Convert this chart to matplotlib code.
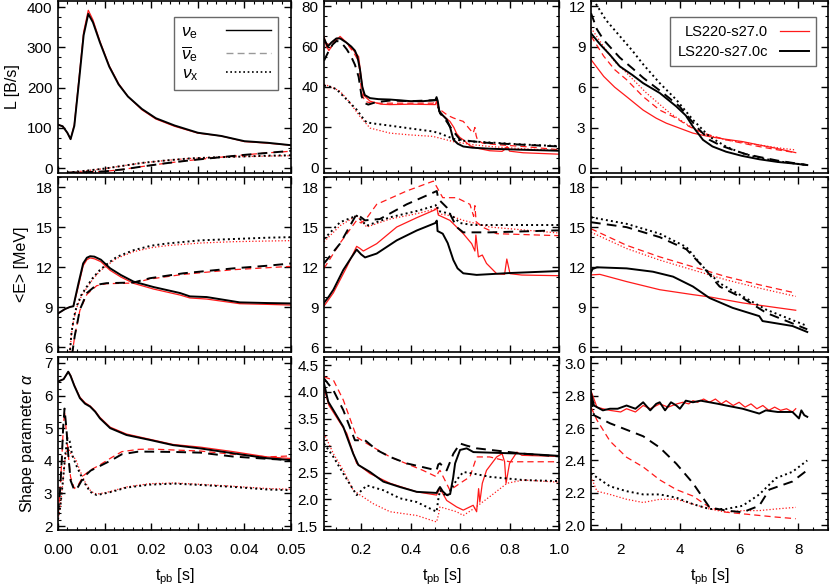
import matplotlib
matplotlib.use("Agg")
import matplotlib.pyplot as plt
from matplotlib.ticker import MultipleLocator, AutoMinorLocator, FormatStrFormatter
from matplotlib.lines import Line2D

plt.rcParams['font.family'] = ['Liberation Sans', 'DejaVu Sans']
plt.rcParams['mathtext.fontset'] = 'custom'
plt.rcParams['mathtext.rm'] = 'Liberation Sans'
plt.rcParams['mathtext.it'] = 'Liberation Sans:italic'
plt.rcParams['mathtext.sf'] = 'Liberation Sans'
plt.rcParams['font.size'] = 11

# ---------------- data: luminosity L [B/s] ----------------
# column 0: 0-0.05 s
tL0_e = [0, 0.001, 0.002, 0.0027, 0.0035, 0.0045, 0.0055, 0.0065, 0.0075, 0.009, 0.011, 0.013, 0.015, 0.018, 0.021, 0.025, 0.03, 0.035, 0.04, 0.045, 0.05]
yL0_e_k = [108, 104, 88, 72, 105, 215, 330, 383, 362, 312, 252, 208, 178, 147, 124, 106, 88, 80, 67, 63, 57]
yL0_e_r = [108, 104, 88, 72, 108, 222, 338, 392, 368, 315, 254, 210, 178, 145, 122, 104, 87, 80, 66, 62, 57]
tL0_a = [0.002, 0.006, 0.01, 0.014, 0.018, 0.023, 0.028, 0.033, 0.04, 0.045, 0.05]
yL0_a_k = [-11, -10, -8, -3, 4, 12, 19, 25, 33, 38, 43]
yL0_a_r = [-11, -10, -8, -3, 4, 12, 19, 25, 33, 38, 42]
tL0_x = [0.002, 0.004, 0.007, 0.01, 0.014, 0.018, 0.023, 0.028, 0.034, 0.04, 0.045, 0.05]
yL0_x_k = [-11, -9, -5, -1, 6, 13, 19, 24, 27, 29, 31, 32]
yL0_x_r = [-11, -9, -5, -1, 6, 13, 19, 24, 27, 29, 30, 31]
# column 1: 0.05-1 s
tL1_e_k = [0.05, 0.065, 0.08, 0.1, 0.115, 0.14, 0.16, 0.175, 0.185, 0.195, 0.205, 0.215, 0.236, 0.27, 0.317, 0.4, 0.45, 0.5, 0.505, 0.51, 0.516, 0.53, 0.546, 0.56, 0.573, 0.59, 0.613, 0.65, 0.72, 0.85, 1.0]
yL1_e_k = [64, 60, 62, 64, 64, 62, 60, 58, 55, 49, 40, 36, 34.5, 34, 33.8, 33, 33, 33.5, 35, 33, 28, 26, 24, 20, 14, 12, 10.6, 10, 9.5, 9, 8.5]
tL1_e_r = [0.05, 0.06, 0.07, 0.09, 0.115, 0.14, 0.17, 0.19, 0.2, 0.21, 0.236, 0.28, 0.317, 0.4, 0.5, 0.505, 0.51, 0.519, 0.54, 0.559, 0.575, 0.586, 0.6, 0.613, 0.64, 0.667, 0.72, 0.77, 0.785, 0.79, 0.8, 0.855, 1.0]
yL1_e_r = [65, 60, 58, 62, 65, 62, 58, 55, 45, 36, 33, 31.5, 31.3, 31.5, 31.3, 33, 31, 27, 25, 23, 20, 17, 15, 13.9, 11, 9.8, 8.5, 8.2, 9.5, 10.6, 8.3, 7.5, 6.8]
tL1_a_k = [0.05, 0.07, 0.085, 0.101, 0.12, 0.142, 0.16, 0.175, 0.19, 0.202, 0.215, 0.229, 0.26, 0.317, 0.4, 0.5, 0.505, 0.51, 0.519, 0.54, 0.559, 0.58, 0.6, 0.64, 0.7, 0.8, 0.9, 1.0]
yL1_a_k = [53, 58, 61, 62.8, 62, 58.6, 55, 51, 45, 35.4, 32, 31.3, 32.5, 33.3, 33, 33.5, 34, 31, 27, 24, 20.5, 17, 14, 13.3, 12.5, 11.8, 11.2, 10.6]
tL1_a_r = [0.05, 0.07, 0.09, 0.115, 0.14, 0.17, 0.19, 0.202, 0.215, 0.24, 0.3, 0.4, 0.49, 0.505, 0.51, 0.519, 0.55, 0.573, 0.6, 0.613, 0.64, 0.653, 0.66, 0.665, 0.67, 0.69, 0.75, 0.855, 1.0]
yL1_a_r = [62, 61, 63, 64.8, 62, 57, 52.8, 37, 33, 32, 32, 32, 32, 33, 30, 28.8, 26, 24.7, 23.5, 23, 19, 17.2, 20, 16, 14, 12.3, 11.5, 10.6, 9]
tL1_x_k = [0.05, 0.08, 0.101, 0.14, 0.182, 0.205, 0.222, 0.26, 0.317, 0.4, 0.492, 0.52, 0.55, 0.586, 0.63, 0.72, 0.85, 1.0]
yL1_x_k = [40.7, 40, 38.8, 34, 28.8, 25, 22.5, 21.8, 20.9, 19.5, 18, 17, 15.5, 13.9, 13.2, 12.6, 11.6, 10.8]
tL1_x_r = [0.05, 0.08, 0.115, 0.15, 0.195, 0.236, 0.317, 0.4, 0.49, 0.573, 0.65, 0.72, 0.85, 1.0]
yL1_x_r = [41.4, 40, 37.9, 33, 25.5, 19.7, 17.2, 16.3, 15.6, 13, 11.5, 10.6, 9.5, 8.6]
# column 2: 1-9 s
tL2_e_k = [1.0, 1.3, 1.64, 1.97, 2.4, 2.76, 3.32, 3.88, 4.2, 4.44, 4.78, 5.1, 5.56, 6.1, 6.68, 7.3, 7.9, 8.3]
yL2_e_k = [10.0, 9.2, 8.4, 7.55, 6.9, 6.3, 5.57, 4.57, 3.9, 3.08, 2.09, 1.6, 1.21, 0.9, 0.65, 0.45, 0.32, 0.22]
tL2_a_k = [1.0, 1.2, 1.43, 1.97, 2.4, 2.76, 3.43, 3.99, 4.55, 5.0, 5.4, 5.8, 6.2, 6.68, 7.3, 7.9, 8.3]
yL2_a_k = [11.5, 10.3, 9.5, 8.2, 7.4, 6.7, 5.57, 4.57, 3.08, 2.09, 1.65, 1.34, 1.05, 0.82, 0.55, 0.35, 0.22]
tL2_x_k = [1.08, 1.5, 1.97, 2.4, 2.76, 3.32, 3.88, 4.44, 5.0, 5.56, 6.1, 6.68, 7.3, 7.9, 8.3]
yL2_x_k = [12.5, 11.0, 9.8, 8.7, 7.7, 6.3, 5.07, 3.58, 2.33, 1.59, 1.1, 0.75, 0.5, 0.33, 0.22]
tL2_e_r = [1.0, 1.43, 1.8, 2.2, 2.76, 3.2, 3.54, 4.0, 4.44, 5.0, 5.5, 6.12, 6.7, 7.24, 7.91]
yL2_e_r = [8.05, 6.8, 6.0, 5.3, 4.3, 3.7, 3.33, 2.95, 2.59, 2.33, 2.15, 1.96, 1.7, 1.47, 1.14]
tL2_a_r = [1.0, 1.43, 1.8, 2.2, 2.76, 3.32, 3.88, 4.3, 4.78, 5.56, 6.1, 6.68, 7.3, 7.91]
yL2_a_r = [9.8, 8.3, 7.3, 6.56, 5.3, 4.3, 3.7, 3.1, 2.59, 2.09, 1.85, 1.59, 1.35, 1.14]
tL2_x_r = [1.0, 1.43, 1.8, 2.2, 2.87, 3.66, 4.2, 4.66, 5.1, 5.56, 6.1, 6.68, 7.3, 7.91]
yL2_x_r = [10.4, 9.0, 7.9, 7.06, 5.57, 4.08, 3.3, 2.71, 2.35, 2.09, 1.9, 1.71, 1.5, 1.34]

# ---------------- data: mean energy <E> [MeV] ----------------
tE0_e = [0, 0.0015, 0.0026, 0.0033, 0.0044, 0.0054, 0.0062, 0.0069, 0.0078, 0.0092, 0.0112, 0.0135, 0.0162, 0.0205, 0.0262, 0.0283, 0.0319, 0.039, 0.045, 0.05]
yE0_e_k = [8.52, 8.85, 9.01, 9.06, 10.79, 12.27, 12.7, 12.81, 12.78, 12.55, 11.9, 11.4, 10.91, 10.5, 10.05, 9.8, 9.75, 9.35, 9.3, 9.27]
yE0_e_r = [8.52, 8.85, 9.01, 9.06, 10.6, 12.1, 12.55, 12.68, 12.62, 12.4, 11.75, 11.25, 10.78, 10.35, 9.9, 9.68, 9.6, 9.25, 9.2, 9.15]
tE0_a = [0.003, 0.0036, 0.0047, 0.0062, 0.0083, 0.0104, 0.0162, 0.0197, 0.0269, 0.0376, 0.045, 0.05]
yE0_a_k = [5.4, 6.84, 8.81, 10.05, 10.67, 10.79, 10.84, 11.16, 11.53, 11.9, 12.1, 12.27]
yE0_a_r = [5.4, 6.84, 8.75, 9.95, 10.6, 10.75, 10.8, 11.1, 11.45, 11.8, 11.95, 12.05]
tE0_x = [0.0025, 0.0029, 0.0034, 0.004, 0.005, 0.0062, 0.0075, 0.009, 0.0108, 0.0126, 0.0162, 0.02, 0.0233, 0.0305, 0.0376, 0.045, 0.05]
yE0_x_k = [5.4, 7.09, 8.2, 9.06, 9.9, 10.54, 11.2, 11.78, 12.3, 12.76, 13.26, 13.6, 13.76, 14.0, 14.1, 14.2, 14.24]
yE0_x_r = [5.4, 7.0, 8.1, 8.95, 9.8, 10.45, 11.1, 11.7, 12.2, 12.65, 13.15, 13.45, 13.6, 13.8, 13.9, 13.95, 13.98]

tE1_e_k = [0.05, 0.07, 0.088, 0.128, 0.16, 0.182, 0.2, 0.216, 0.263, 0.344, 0.425, 0.5, 0.506, 0.509, 0.53, 0.55, 0.573, 0.59, 0.613, 0.667, 0.8, 1.0]
yE1_e_k = [9.31, 9.8, 10.3, 11.78, 12.7, 13.31, 12.95, 12.72, 13.01, 14.0, 14.74, 15.3, 15.48, 14.7, 14.5, 13.8, 12.52, 11.9, 11.53, 11.41, 11.55, 11.7]
tE1_e_r = [0.05, 0.088, 0.142, 0.182, 0.195, 0.209, 0.263, 0.344, 0.425, 0.5, 0.506, 0.512, 0.559, 0.613, 0.647, 0.66, 0.664, 0.674, 0.69, 0.707, 0.748, 0.78, 0.789, 0.802, 0.85, 1.0]
yE1_e_r = [9.07, 10.07, 12.0, 13.55, 13.4, 13.2, 13.75, 15.0, 15.7, 16.3, 16.47, 15.9, 15.5, 14.5, 13.75, 13.2, 14.4, 12.76, 12.9, 12.27, 11.5, 11.45, 12.6, 11.5, 11.4, 11.35]
tE1_a_k = [0.05, 0.115, 0.182, 0.216, 0.276, 0.384, 0.5, 0.506, 0.512, 0.546, 0.586, 0.613, 0.72, 1.0]
yE1_a_k = [12.27, 13.76, 15.98, 15.5, 15.6, 16.7, 17.65, 17.7, 17.1, 16.47, 15.0, 14.6, 14.6, 14.75]
tE1_a_r = [0.05, 0.115, 0.182, 0.2, 0.22, 0.263, 0.384, 0.492, 0.5, 0.53, 0.586, 0.64, 0.655, 0.66, 0.665, 0.69, 0.748, 1.0]
yE1_a_r = [11.9, 13.8, 15.5, 15.3, 15.6, 16.7, 17.7, 18.44, 18.2, 17.2, 17.2, 16.7, 15.8, 16.6, 15.4, 15.0, 14.5, 14.35]
tE1_x_k = [0.05, 0.115, 0.182, 0.223, 0.317, 0.425, 0.5, 0.506, 0.512, 0.559, 0.6, 0.65, 1.0]
yE1_x_k = [14.1, 15.36, 15.85, 15.1, 15.73, 16.2, 16.6, 16.7, 16.2, 16.0, 15.3, 15.15, 15.15]
tE1_x_r = [0.05, 0.115, 0.182, 0.223, 0.317, 0.425, 0.5, 0.506, 0.512, 0.559, 0.613, 0.72, 1.0]
yE1_x_r = [13.9, 15.1, 15.85, 15.0, 15.6, 16.0, 16.35, 16.47, 16.0, 15.85, 15.5, 15.0, 14.55]

tE2_e_k = [1.0, 1.05, 1.2, 2.2, 3.09, 3.77, 4.44, 5.0, 5.78, 6.68, 6.79, 7.8, 8.3]
yE2_e_k = [11.6, 11.85, 11.98, 11.9, 11.65, 11.28, 10.54, 9.68, 8.94, 8.32, 7.95, 7.58, 7.13]
tE2_e_r = [1.0, 1.3, 2.2, 3.32, 4.44, 5.0, 6.12, 7.91]
yE2_e_r = [11.41, 11.45, 10.91, 10.3, 9.93, 9.76, 9.31, 8.76]
tE2_ax_k = [1.0, 2.2, 3.32, 4.22, 4.78, 5.34, 6.12, 6.91, 8.3]
yE2_x_k = [15.73, 15.24, 14.5, 13.5, 12.02, 10.79, 9.8, 8.81, 7.58]
yE2_a_k = [15.36, 14.99, 14.24, 13.33, 12.02, 10.54, 9.68, 8.57, 7.33]
tE2_ax_r = [1.0, 2.2, 3.32, 4.44, 5.56, 6.68, 7.91]
yE2_x_r = [14.61, 13.39, 12.52, 11.78, 11.04, 10.42, 9.8]
yE2_a_r = [14.87, 13.63, 12.76, 12.02, 11.28, 10.67, 10.05]

# ---------------- data: shape parameter alpha ----------------
tA0_e = [0, 0.0012, 0.0022, 0.0027, 0.0035, 0.0047, 0.0058, 0.0069, 0.008, 0.009, 0.0112, 0.0147, 0.0197, 0.0247, 0.0305, 0.0376, 0.0448, 0.05]
yA0_e_k = [6.43, 6.5, 6.73, 6.6, 6.3, 5.92, 5.75, 5.66, 5.5, 5.3, 5.0, 4.79, 4.64, 4.48, 4.38, 4.23, 4.08, 4.02]
yA0_e_r = [6.43, 6.5, 6.73, 6.62, 6.32, 5.95, 5.78, 5.68, 5.52, 5.33, 5.03, 4.82, 4.66, 4.5, 4.42, 4.28, 4.12, 4.07]
tA0_a = [0, 0.0004, 0.0008, 0.0011, 0.0014, 0.0018, 0.0022, 0.0027, 0.0035, 0.0043, 0.0055, 0.007, 0.0087, 0.0115, 0.0137, 0.0172, 0.02, 0.025, 0.0305, 0.0376, 0.045, 0.05]
yA0_a_k = [2.4, 3.0, 4.0, 5.0, 5.6, 5.0, 4.2, 3.4, 3.1, 3.2, 3.5, 3.7, 3.82, 4.02, 4.2, 4.28, 4.28, 4.27, 4.25, 4.13, 4.06, 4.02]
yA0_a_r = [2.4, 3.0, 4.0, 4.9, 5.5, 4.9, 4.2, 3.5, 3.15, 3.25, 3.55, 3.72, 3.85, 4.1, 4.28, 4.35, 4.36, 4.33, 4.3, 4.2, 4.12, 4.15]
tA0_x = [0, 0.0005, 0.001, 0.0015, 0.002, 0.0025, 0.003, 0.0038, 0.0047, 0.0058, 0.0069, 0.0076, 0.0083, 0.01, 0.0115, 0.0147, 0.0197, 0.025, 0.0305, 0.0376, 0.045, 0.05]
yA0_x_k = [2.2, 2.6, 3.3, 4.1, 4.7, 4.6, 4.2, 3.9, 3.62, 3.3, 3.05, 3.0, 2.95, 3.0, 3.05, 3.18, 3.27, 3.3, 3.26, 3.2, 3.12, 3.1]
yA0_x_r = [2.2, 2.6, 3.3, 4.0, 4.5, 4.3, 4.15, 4.05, 3.7, 3.35, 3.1, 3.02, 2.98, 3.02, 3.07, 3.2, 3.3, 3.32, 3.28, 3.22, 3.15, 3.13]

tA1_e_k = [0.05, 0.067, 0.088, 0.128, 0.168, 0.189, 0.236, 0.29, 0.357, 0.425, 0.505, 0.512, 0.519, 0.53, 0.546, 0.56, 0.572, 0.58, 0.6, 0.627, 0.654, 0.856, 1.0]
yA1_e_k = [4.16, 3.82, 3.66, 3.35, 2.85, 2.64, 2.51, 2.33, 2.23, 2.14, 2.12, 2.18, 2.23, 2.15, 2.08, 2.1, 2.4, 2.67, 2.92, 2.95, 2.88, 2.85, 2.81]
tA1_e_r = [0.05, 0.07, 0.142, 0.182, 0.236, 0.317, 0.425, 0.505, 0.512, 0.519, 0.546, 0.586, 0.613, 0.653, 0.667, 0.675, 0.68, 0.69, 0.707, 0.748, 0.77, 0.78, 0.786, 0.8, 0.83, 0.85, 1.0]
yA1_e_r = [4.07, 3.75, 3.23, 2.67, 2.48, 2.3, 2.14, 2.08, 2.15, 2.2, 1.98, 1.86, 1.8, 1.89, 1.77, 2.2, 1.95, 2.3, 2.54, 2.79, 2.85, 2.7, 2.3, 2.67, 2.88, 2.82, 2.8]
tA1_a_k = [0.05, 0.088, 0.128, 0.175, 0.216, 0.263, 0.317, 0.384, 0.45, 0.505, 0.512, 0.519, 0.546, 0.573, 0.6, 0.627, 0.667, 0.856, 1.0]
yA1_a_k = [4.25, 4.03, 3.66, 3.1, 3.1, 2.92, 2.79, 2.67, 2.6, 2.54, 2.65, 2.67, 2.54, 2.85, 3.04, 3.0, 2.95, 2.85, 2.8]
tA1_a_r = [0.05, 0.088, 0.128, 0.182, 0.223, 0.317, 0.45, 0.505, 0.512, 0.519, 0.559, 0.6, 0.64, 0.667, 0.72, 0.8, 1.0]
yA1_a_r = [4.28, 4.22, 3.85, 3.16, 3.04, 2.79, 2.54, 2.42, 2.5, 2.54, 2.17, 2.3, 2.42, 2.79, 2.79, 2.7, 2.7]
tA1_x_k = [0.05, 0.088, 0.128, 0.182, 0.223, 0.29, 0.357, 0.425, 0.505, 0.512, 0.519, 0.546, 0.586, 0.613, 0.653, 0.72, 0.856, 1.0]
yA1_x_k = [3.04, 2.79, 2.48, 2.08, 2.26, 2.17, 2.02, 1.95, 1.77, 2.0, 2.17, 2.05, 2.36, 2.51, 2.48, 2.42, 2.36, 2.34]
tA1_x_r = [0.05, 0.088, 0.128, 0.168, 0.19, 0.249, 0.317, 0.425, 0.505, 0.512, 0.519, 0.586, 0.613, 0.653, 0.72, 0.79, 0.856, 1.0]
yA1_x_r = [3.23, 2.85, 2.54, 2.17, 2.1, 1.92, 1.77, 1.7, 1.58, 1.7, 1.86, 1.77, 1.7, 1.82, 2.05, 2.3, 2.36, 2.32]

tA2_e_k = [1.0, 1.1, 1.4, 1.64, 1.9, 2.2, 2.5, 2.76, 3.0, 3.2, 3.32, 3.5, 3.7, 3.88, 4.0, 4.2, 4.44, 4.7, 5.0, 5.3, 5.56, 6.12, 6.68, 6.9, 7.3, 7.8, 8.02, 8.1, 8.2, 8.3]
yA2_e_k = [2.82, 2.74, 2.71, 2.72, 2.72, 2.74, 2.72, 2.76, 2.71, 2.75, 2.76, 2.71, 2.76, 2.74, 2.72, 2.77, 2.76, 2.77, 2.76, 2.75, 2.74, 2.72, 2.69, 2.71, 2.7, 2.7, 2.66, 2.71, 2.68, 2.67]
tA2_e_r = [1.0, 1.2, 1.4, 1.64, 2.0, 2.2, 2.5, 2.76, 3.0, 3.32, 3.6, 3.9, 4.1, 4.3, 4.44, 4.6, 4.8, 5.0, 5.2, 5.4, 5.56, 5.8, 6.0, 6.2, 6.4, 6.6, 6.8, 7.0, 7.2, 7.4, 7.6, 7.8, 7.91]
yA2_e_r = [2.83, 2.73, 2.72, 2.71, 2.7, 2.72, 2.7, 2.74, 2.72, 2.75, 2.73, 2.75, 2.76, 2.75, 2.77, 2.76, 2.78, 2.76, 2.78, 2.75, 2.77, 2.74, 2.76, 2.73, 2.75, 2.72, 2.74, 2.71, 2.73, 2.71, 2.72, 2.70, 2.72]
tA2_a_k = [1.0, 1.1, 1.64, 2.2, 2.76, 3.32, 3.88, 4.44, 5.0, 5.56, 6.12, 6.68, 7.02, 7.8, 8.3]
yA2_a_k = [2.79, 2.68, 2.63, 2.59, 2.55, 2.48, 2.38, 2.26, 2.11, 2.09, 2.08, 2.12, 2.22, 2.27, 2.34]
tA2_a_r = [1.0, 1.2, 1.64, 2.2, 2.76, 3.32, 3.88, 4.44, 5.0, 5.56, 6.12, 6.68, 7.24, 7.91]
yA2_a_r = [2.73, 2.65, 2.52, 2.42, 2.36, 2.28, 2.22, 2.18, 2.11, 2.08, 2.07, 2.06, 2.05, 2.04]
tA2_x_k = [1.0, 1.64, 2.2, 2.76, 3.32, 3.88, 4.44, 5.0, 5.56, 6.12, 6.68, 7.24, 7.8, 8.3]
yA2_x_k = [2.32, 2.24, 2.21, 2.19, 2.19, 2.17, 2.13, 2.10, 2.10, 2.12, 2.19, 2.29, 2.33, 2.4]
tA2_x_r = [1.0, 1.2, 1.64, 2.2, 2.76, 3.32, 3.88, 4.44, 5.0, 5.56, 6.12, 6.68, 7.24, 7.91]
yA2_x_r = [2.30, 2.21, 2.19, 2.16, 2.14, 2.16, 2.16, 2.13, 2.10, 2.08, 2.09, 2.09, 2.10, 2.11]

# ---------------- axes settings ----------------
xlims = [(0.0, 0.05), (0.05, 1.0), (1.0, 9.0)]
xmajor = [0.01, 0.2, 2.0]
xticklabels = [["0.00", "0.01", "0.02", "0.03", "0.04", "0.05"],
               ["0.2", "0.4", "0.6", "0.8", "1.0"],
               ["2", "4", "6", "8"]]
xticks = [[0.0, 0.01, 0.02, 0.03, 0.04, 0.05], [0.2, 0.4, 0.6, 0.8, 1.0], [2, 4, 6, 8]]
ylims = [[(-12, 415), (-2.5, 82.5), (-0.37, 12.4)],
         [(5.63, 18.75), (5.63, 18.75), (5.63, 18.75)],
         [(1.88, 7.18), (1.43, 4.65), (1.97, 3.04)]]
ymajor = [[100, 20, 3], [3, 3, 3], [1, 0.5, 0.2]]
yfmt = [["%d", "%d", "%d"], ["%d", "%d", "%d"], ["%d", "%.1f", "%.1f"]]
ylabels = ["L [B/s]", "<E> [MeV]", r"Shape parameter $\alpha$"]

RED = '#ff1a1a'
sty = {
    'e': '-',
    'a': (0, (5, 3.2)),
    'x': (0, (1, 1.6)),
}

curves = [
    # row, col, flavor, t_black, y_black, t_red, y_red
    (0, 0, 'e', tL0_e, yL0_e_k, tL0_e, yL0_e_r),
    (0, 0, 'a', tL0_a, yL0_a_k, tL0_a, yL0_a_r),
    (0, 0, 'x', tL0_x, yL0_x_k, tL0_x, yL0_x_r),
    (0, 1, 'e', tL1_e_k, yL1_e_k, tL1_e_r, yL1_e_r),
    (0, 1, 'a', tL1_a_k, yL1_a_k, tL1_a_r, yL1_a_r),
    (0, 1, 'x', tL1_x_k, yL1_x_k, tL1_x_r, yL1_x_r),
    (0, 2, 'e', tL2_e_k, yL2_e_k, tL2_e_r, yL2_e_r),
    (0, 2, 'a', tL2_a_k, yL2_a_k, tL2_a_r, yL2_a_r),
    (0, 2, 'x', tL2_x_k, yL2_x_k, tL2_x_r, yL2_x_r),
    (1, 0, 'e', tE0_e, yE0_e_k, tE0_e, yE0_e_r),
    (1, 0, 'a', tE0_a, yE0_a_k, tE0_a, yE0_a_r),
    (1, 0, 'x', tE0_x, yE0_x_k, tE0_x, yE0_x_r),
    (1, 1, 'e', tE1_e_k, yE1_e_k, tE1_e_r, yE1_e_r),
    (1, 1, 'a', tE1_a_k, yE1_a_k, tE1_a_r, yE1_a_r),
    (1, 1, 'x', tE1_x_k, yE1_x_k, tE1_x_r, yE1_x_r),
    (1, 2, 'e', tE2_e_k, yE2_e_k, tE2_e_r, yE2_e_r),
    (1, 2, 'a', tE2_ax_k, yE2_a_k, tE2_ax_r, yE2_a_r),
    (1, 2, 'x', tE2_ax_k, yE2_x_k, tE2_ax_r, yE2_x_r),
    (2, 0, 'e', tA0_e, yA0_e_k, tA0_e, yA0_e_r),
    (2, 0, 'a', tA0_a, yA0_a_k, tA0_a, yA0_a_r),
    (2, 0, 'x', tA0_x, yA0_x_k, tA0_x, yA0_x_r),
    (2, 1, 'e', tA1_e_k, yA1_e_k, tA1_e_r, yA1_e_r),
    (2, 1, 'a', tA1_a_k, yA1_a_k, tA1_a_r, yA1_a_r),
    (2, 1, 'x', tA1_x_k, yA1_x_k, tA1_x_r, yA1_x_r),
    (2, 2, 'e', tA2_e_k, yA2_e_k, tA2_e_r, yA2_e_r),
    (2, 2, 'a', tA2_a_k, yA2_a_k, tA2_a_r, yA2_a_r),
    (2, 2, 'x', tA2_x_k, yA2_x_k, tA2_x_r, yA2_x_r),
]

W, H = 830, 587
fig = plt.figure(figsize=(8.3, 5.87), dpi=100)
colpx = [(58, 291), (324, 559), (591, 828)]
rowpx = [(1, 173), (177, 352), (357, 530)]
axes = [[None] * 3 for _ in range(3)]
for r in range(3):
    for c in range(3):
        x0, x1 = colpx[c]
        y0, y1 = rowpx[r]
        ax = fig.add_axes([x0 / W, 1 - y1 / H, (x1 - x0) / W, (y1 - y0) / H])
        axes[r][c] = ax
        ax.set_xlim(*xlims[c])
        ax.set_ylim(*ylims[r][c])
        ax.xaxis.set_major_locator(MultipleLocator(xmajor[c]))
        ax.xaxis.set_minor_locator(AutoMinorLocator(5 if c == 0 else 4))
        ax.yaxis.set_major_locator(MultipleLocator(ymajor[r][c]))
        ax.yaxis.set_minor_locator(AutoMinorLocator(5 if (r == 2) else 4))
        ax.yaxis.set_major_formatter(FormatStrFormatter(yfmt[r][c]))
        ax.tick_params(which='both', direction='in', top=True, right=True, labelsize=11)
        ax.tick_params(axis='y', pad=4)
        ax.tick_params(axis='x', pad=9)
        ax.tick_params(which='major', length=5, width=1.0)
        ax.tick_params(which='minor', length=2.5, width=0.8)
        for s in ax.spines.values():
            s.set_linewidth(1.2)
        if r < 2:
            ax.set_xticklabels([])
        else:
            ax.set_xticks(xticks[c])
            ax.set_xticklabels(xticklabels[c])
            ax.set_xlabel(r"t$_{\mathrm{pb}}$ [s]", fontsize=11.5, labelpad=7)
        if c == 0:
            ax.set_ylabel(ylabels[r], fontsize=11.5, labelpad=5)

for (r, c, f, tk, yk, tr, yr) in curves:
    ax = axes[r][c]
    ax.plot(tr, yr, color=RED, lw=0.9, linestyle=sty[f], zorder=2)
    ax.plot(tk, yk, color='black', lw=1.4, linestyle=sty[f], zorder=3)

# legends
h1 = [Line2D([], [], color='black', lw=1.0, linestyle='-'),
      Line2D([], [], color='#999999', lw=1.0, linestyle=(0, (5, 3))),
      Line2D([], [], color='black', lw=1.2, linestyle=(0, (1, 1.6)))]
l1 = [r"$\nu_{\mathrm{e}}$", r"$\overline{\nu}_{\mathrm{e}}$", r"$\nu_{\mathrm{x}}$"]
leg1 = axes[0][0].legend(h1, l1, loc='upper right', bbox_to_anchor=(0.945, 0.905), markerfirst=False,
                         fancybox=False, edgecolor='#444444', fontsize=12.5, handlelength=2.6,
                         labelspacing=0.15, borderpad=0.4, handletextpad=1.6, borderaxespad=0)
leg1.get_frame().set_linewidth(1.0)

h2 = [Line2D([], [], color=RED, lw=0.9), Line2D([], [], color='black', lw=1.4)]
l2 = ["LS220-s27.0", "LS220-s27.0c"]
leg2 = axes[0][2].legend(h2, l2, loc='upper right', bbox_to_anchor=(0.95, 0.905), markerfirst=False,
                         fancybox=False, edgecolor='#444444', fontsize=10.5, handlelength=2.0,
                         labelspacing=0.45, borderpad=0.5, handletextpad=0.8, borderaxespad=0)
leg2.get_frame().set_linewidth(1.0)

fig.savefig("out.png", dpi=100)
